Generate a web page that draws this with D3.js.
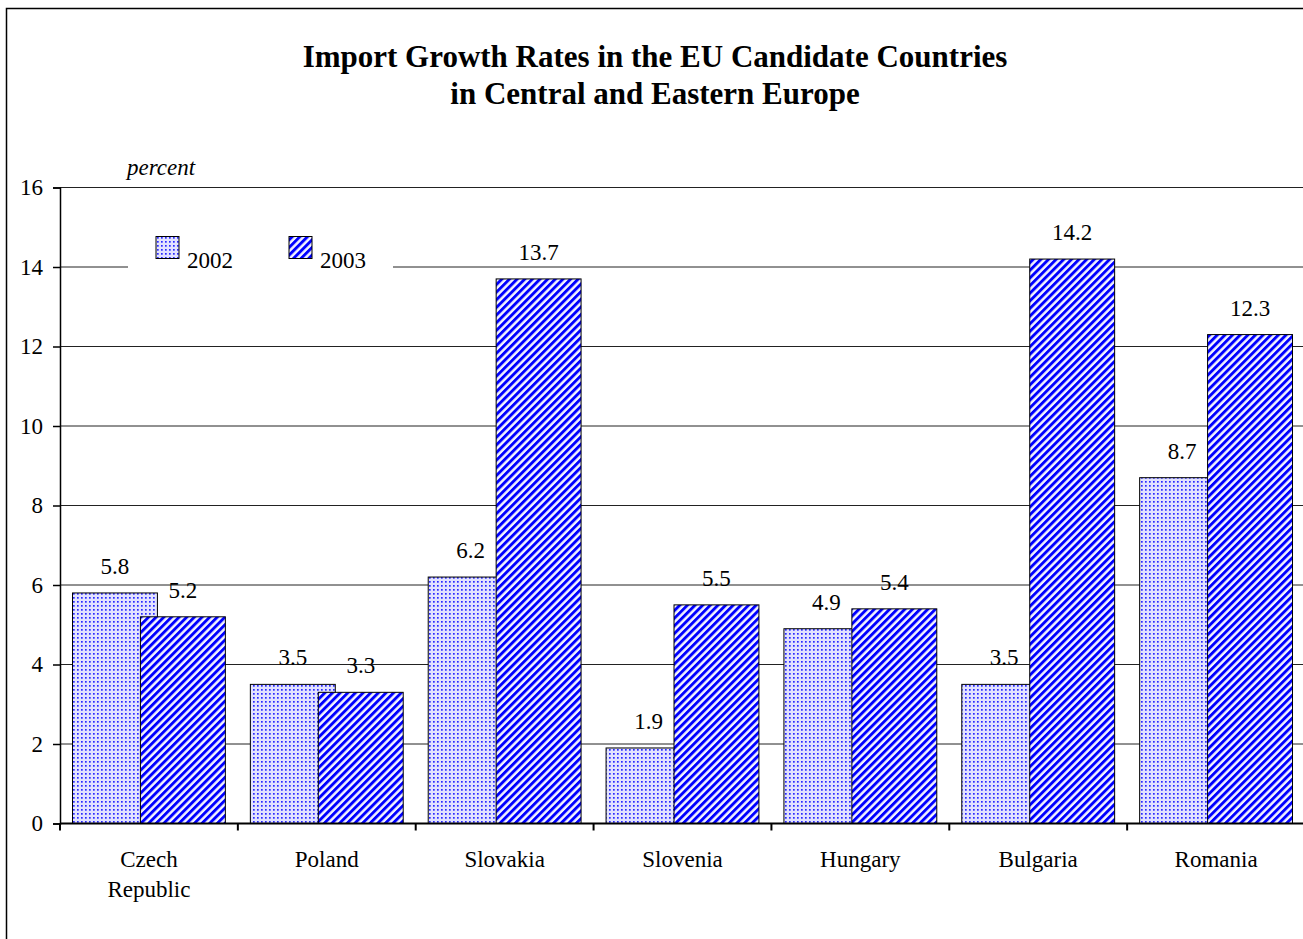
<!DOCTYPE html>
<html>
<head>
<meta charset="utf-8">
<script src="https://cdn.jsdelivr.net/npm/d3@7"></script>
<style>
  html, body { margin: 0; padding: 0; background: #fff; }
  svg { display: block; font-family: "Liberation Serif", "Times New Roman", serif; }
</style>
</head>
<body>
<svg id="chart" width="1303" height="939"></svg>
<script>
// Import growth, percent
const countries = ["Czech\nRepublic", "Poland", "Slovakia", "Slovenia", "Hungary", "Bulgaria", "Romania"];
const values2002 = [5.8, 3.5, 6.2, 1.9, 4.9, 3.5, 8.7];
const values2003 = [5.2, 3.3, 13.7, 5.5, 5.4, 14.2, 12.3];
const seriesNames = ["2002", "2003"];
const yTicks = [0, 2, 4, 6, 8, 10, 12, 14, 16];

const FS = 23;
const svg = d3.select("#chart");

const plot = { left: 60, right: 1305, top: 187.5, bottom: 823.5 };

const x = d3.scaleBand().domain(countries).range([plot.left, plot.right]).padding(0);
const y = d3.scaleLinear().domain([0, 16]).range([plot.bottom, plot.top]);

// fill patterns
const defs = svg.append("defs");
const dots = defs.append("pattern")
  .attr("id", "dots").attr("patternUnits", "userSpaceOnUse")
  .attr("width", 4).attr("height", 4);
dots.append("rect").attr("width", 4).attr("height", 4).attr("fill", "#e2e2ff");
dots.append("rect").attr("x", 1).attr("y", 1).attr("width", 1.7).attr("height", 1.7).attr("fill", "#2a2aff");

const stripes = defs.append("pattern")
  .attr("id", "stripes").attr("patternUnits", "userSpaceOnUse")
  .attr("width", 5.4).attr("height", 10)
  .attr("patternTransform", "rotate(45)");
stripes.append("rect").attr("width", 5.4).attr("height", 10).attr("fill", "#f4f4ff");
stripes.append("rect").attr("width", 2.9).attr("height", 10).attr("fill", "#0000ff");

// outer frame
svg.append("path")
  .attr("d", "M6.5,939 L6.5,8.5 L1303,8.5")
  .attr("fill", "none").attr("stroke", "#000").attr("stroke-width", 1.5);

// title
const title = svg.append("text")
  .attr("text-anchor", "middle")
  .attr("font-weight", "bold").attr("font-size", 31);
title.append("tspan").attr("x", 655).attr("y", 67).text("Import Growth Rates in the EU Candidate Countries");
title.append("tspan").attr("x", 655).attr("y", 104).text("in Central and Eastern Europe");

// gridlines
svg.append("g").selectAll("line")
  .data(yTicks.filter(d => d > 0))
  .join("line")
  .attr("x1", plot.left).attr("x2", plot.right)
  .attr("y1", d => y(d)).attr("y2", d => y(d))
  .attr("stroke", "#222").attr("stroke-width", 1);

// y axis
const yAxis = svg.append("g")
  .attr("transform", `translate(${plot.left},0)`)
  .call(d3.axisLeft(y).tickValues(yTicks).tickSize(7).tickPadding(10).tickFormat(d3.format("d")));
yAxis.select(".domain").attr("stroke", "#000").attr("stroke-width", 1.5);
yAxis.selectAll(".tick line").attr("stroke", "#000").attr("stroke-width", 1.5);
yAxis.selectAll(".tick text")
  .attr("font-family", "Liberation Serif, serif").attr("font-size", FS).attr("fill", "#000");

svg.append("text")
  .attr("x", 161).attr("y", 175).attr("text-anchor", "middle")
  .attr("font-style", "italic").attr("font-size", FS)
  .text("percent");

// legend
svg.append("rect").attr("x", 128).attr("y", 224).attr("width", 265).attr("height", 56).attr("fill", "#fff");
const legend = svg.append("g");
seriesNames.forEach((name, i) => {
  const lx = 156 + i * 133;
  legend.append("rect")
    .attr("x", lx).attr("y", 236.5).attr("width", 23).attr("height", 22)
    .attr("fill", i === 0 ? "url(#dots)" : "url(#stripes)")
    .attr("stroke", "#000").attr("stroke-width", 1);
  legend.append("text")
    .attr("x", lx + 31).attr("y", 268).attr("font-size", FS)
    .text(name);
});

// bars: two overlapping bars per category
const gap = 12.5;
const overlap = 0.2;
const barW = (x.bandwidth() - 2 * gap) / (2 - overlap);

const rows = countries.map((c, i) => ({ c, v: [values2002[i], values2003[i]] }));
const bars = svg.append("g");
[0, 1].forEach(s => {
  bars.selectAll(`.bar${s}`)
    .data(rows)
    .join("rect")
    .attr("class", `bar${s}`)
    .attr("x", d => x(d.c) + gap + s * barW * (1 - overlap))
    .attr("y", d => y(d.v[s]))
    .attr("width", barW)
    .attr("height", d => y(0) - y(d.v[s]))
    .attr("fill", s === 0 ? "url(#dots)" : "url(#stripes)")
    .attr("stroke", "#000").attr("stroke-width", 1);
});

// value labels
[0, 1].forEach(s => {
  svg.append("g").selectAll("text")
    .data(rows)
    .join("text")
    .attr("x", d => x(d.c) + gap + s * barW * (1 - overlap) + barW / 2)
    .attr("y", d => y(d.v[s]) - 19)
    .attr("text-anchor", "middle").attr("font-size", FS)
    .text(d => d3.format(".1f")(d.v[s]));
});

// x axis
const xAxis = svg.append("g").attr("transform", `translate(0,${plot.bottom})`);
xAxis.append("line")
  .attr("x1", plot.left).attr("x2", plot.right)
  .attr("stroke", "#000").attr("stroke-width", 2);
xAxis.selectAll(".tk")
  .data(countries.map(c => x(c)).concat([plot.right]))
  .join("line")
  .attr("x1", d => d).attr("x2", d => d)
  .attr("y1", 0).attr("y2", 7)
  .attr("stroke", "#000").attr("stroke-width", 2);
xAxis.selectAll(".lbl")
  .data(countries)
  .join("text")
  .attr("text-anchor", "middle").attr("font-size", FS)
  .each(function(d) {
    const t = d3.select(this);
    d.split("\n").forEach((line, k) => {
      t.append("tspan")
        .attr("x", x(d) + x.bandwidth() / 2)
        .attr("y", 43 + k * 30)
        .text(line);
    });
  });
</script>
</body>
</html>
